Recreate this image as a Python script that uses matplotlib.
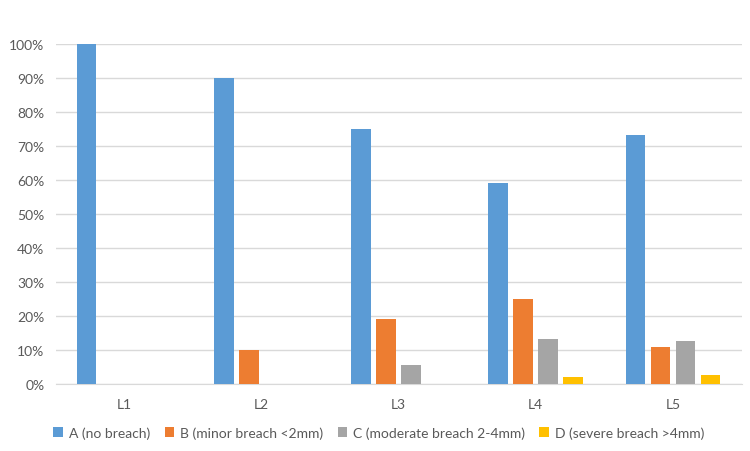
import matplotlib
matplotlib.use("Agg")
import matplotlib.pyplot as plt
import numpy as np
from matplotlib.ticker import PercentFormatter

categories = ["L1", "L2", "L3", "L4", "L5"]
series_names = ["A (no breach)", "B (minor breach <2mm)", "C (moderate breach 2-4mm)", "D (severe breach >4mm)"]
A = [100.0, 90.0, 75.0, 59.1, 73.3]
B = [0.0, 10.0, 19.2, 25.1, 11.0]
C = [0.0, 0.0, 5.5, 13.2, 12.7]
D = [0.0, 0.0, 0.0, 2.2, 2.8]
colors = ["#5B9BD5", "#ED7D31", "#A5A5A5", "#FFC000"]

plt.rcParams['font.family'] = ['Lato', 'DejaVu Sans']
fig = plt.figure(figsize=(7.5, 4.52), dpi=100)
ax = fig.add_axes([0.074, 0.148, 0.9147, 0.7524])

x = np.arange(len(categories))
step = 0.182
width = 0.143
for i, (vals, name, c) in enumerate(zip([A, B, C, D], series_names, colors)):
    ax.bar(x + (i - 1.5) * step, vals, width, color=c, label=name, zorder=3)

ax.set_xlim(-0.5, len(categories) - 0.5)
ax.set_ylim(0, 100)
ax.set_yticks(np.arange(0, 101, 10))
ax.yaxis.set_major_formatter(PercentFormatter(decimals=0))
ax.set_xticks(x)
ax.set_xticklabels(categories)
ax.grid(axis='y', color='#D9D9D9', linewidth=1, zorder=0)
for s in ['top', 'right', 'left']:
    ax.spines[s].set_visible(False)
ax.spines['bottom'].set_color('#D9D9D9')
ax.tick_params(axis='both', length=0, colors='#595959', labelsize=10)
ax.tick_params(axis='x', pad=10)
ax.tick_params(axis='y', pad=8)

leg = fig.legend(loc='center', bbox_to_anchor=(0.505, 0.041), ncol=4, frameon=False,
                 fontsize=10, handlelength=0.7, handleheight=0.7, handletextpad=0.4,
                 columnspacing=1.05, labelcolor='#595959')

fig.savefig("out.png", dpi=100)
